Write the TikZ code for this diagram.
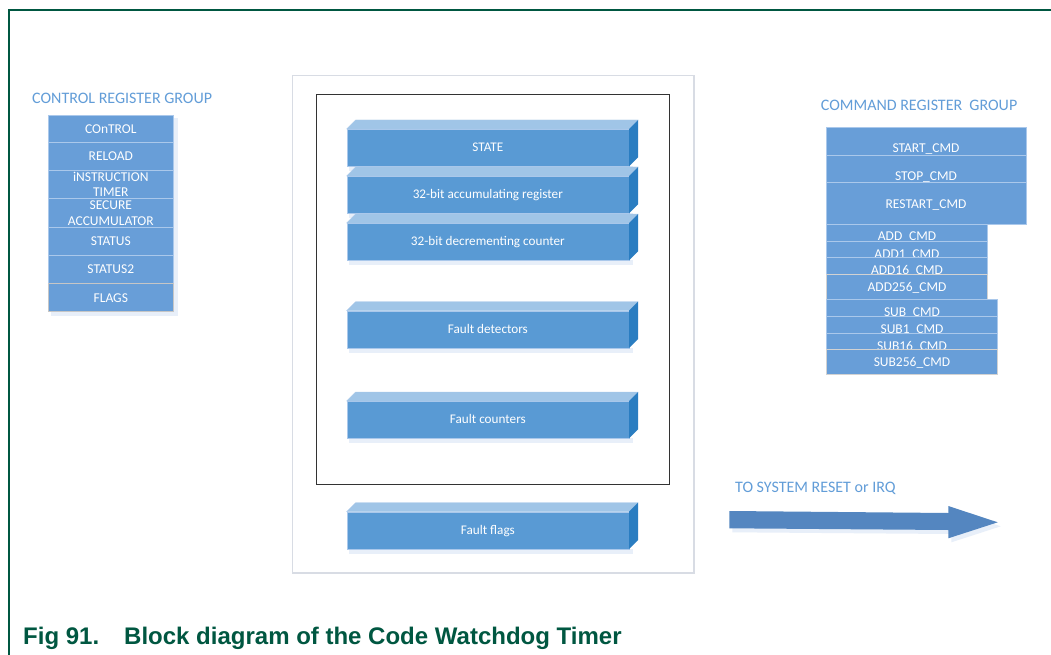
\documentclass[tikz,border=0pt]{standalone}
\usepackage{fontspec}
\setmainfont{Carlito}
\newfontfamily\capfont{Liberation Sans}
\usetikzlibrary{calc}
\definecolor{frameg}{RGB}{0,87,65}
\definecolor{titlec}{RGB}{98,157,216}
\definecolor{regblue}{RGB}{104,158,216}
\definecolor{regline}{RGB}{170,200,235}
\definecolor{barfront}{RGB}{89,154,212}
\definecolor{bartopc}{RGB}{160,197,231}
\definecolor{barsidec}{RGB}{42,125,193}
\definecolor{arrowc}{RGB}{84,134,192}
\definecolor{outerc}{RGB}{216,220,228}
\definecolor{shadowc}{RGB}{232,239,249}
\newcommand\wdbar[3]{%
  \fill[shadowc] (349,#2+37.3) rectangle (633,#2+42);
  \node[barface] (#1) at (346.7,#2) {#3};
  \filldraw[bartopc, draw=regline, line width=0.4pt] (#1.north west) -- ++(9,-9) -- ($(#1.north east)+(9,-9)$) -- (#1.north east) -- cycle;
  \fill[barsidec] (#1.north east) -- ++(9,-9) -- ($(#1.south east)+(9,-9)$) -- (#1.south east) -- cycle;
}
\begin{document}
\begin{tikzpicture}[x=1pt,y=-1pt,
  regbox/.style={fill=regblue, draw=regline, line width=0.5pt, anchor=north west, inner sep=0pt, outer sep=0pt},
  ctrlbox/.style={regbox, minimum width=125pt},
  lbl/.style={anchor=base, inner sep=0pt, text=white, font=\fontsize{13.5}{15}\selectfont},
  title/.style={anchor=base west, inner sep=0pt, text=titlec, font=\fontsize{16}{18}\selectfont},
  barface/.style={fill=barfront, draw=regline, line width=0.4pt, anchor=north west, inner sep=0pt, outer sep=0pt,
    minimum width=282.3pt, minimum height=37.3pt, text=white, text height=8.5pt, text depth=0pt,
    font=\fontsize{13.2}{15}\selectfont},
]
\useasboundingbox (0,0) rectangle (1051,655);
\fill[white] (0,0) rectangle (1051,655);

% frame
\draw[frameg, line width=1.5pt] (9,655) -- (9,10) -- (1051,10);

% control register group
\node[title] (ctitle) at (32,103.3) {CONTROL REGISTER GROUP};
\fill[shadowc] (51,118) rectangle (178,316);
\node[ctrlbox, minimum height=27.7pt] (ctrl) at (48.3,115) {};
\node[lbl] (ctrlT) at (110.8,133.3) {COnTROL};
\node[ctrlbox, minimum height=27.6pt] (reload) at (48.3,142.7) {};
\node[lbl] (reloadT) at (110.8,160.3) {RELOAD};
\node[ctrlbox, minimum height=28.4pt] (itimer) at (48.3,170.3) {};
\node[lbl] (itimerA) at (110.8,181.5) {iNSTRUCTION};
\node[lbl] (itimerB) at (110.8,196.5) {TIMER};
\node[ctrlbox, minimum height=28.6pt] (secacc) at (48.3,198.7) {};
\node[lbl] (secaccA) at (110.8,209.5) {SECURE};
\node[lbl] (secaccB) at (110.8,225) {ACCUMULATOR};
\node[ctrlbox, minimum height=28.4pt] (status) at (48.3,227.3) {};
\node[lbl] (statusT) at (110.8,245.3) {STATUS};
\node[ctrlbox, minimum height=28pt] (status2) at (48.3,255.7) {};
\node[lbl] (status2T) at (110.8,273.3) {STATUS2};
\node[ctrlbox, minimum height=28pt, draw=gray!45] (flags) at (48.3,283.7) {};
\node[lbl] (flagsT) at (110.8,302) {FLAGS};

% central block
\node[draw=outerc, line width=1.3pt, fill=white, anchor=north west, inner sep=0pt, minimum width=401.6pt, minimum height=497.3pt] (outer) at (291.7,75) {};
\node[draw=black!80, line width=0.8pt, anchor=north west, inner sep=0pt, minimum width=353pt, minimum height=390pt] (inner) at (316,94.3) {};
\wdbar{state}{129}{STATE}
\wdbar{accreg}{176}{32-bit accumulating register}
\wdbar{deccnt}{223}{32-bit decrementing counter}
\wdbar{fdet}{310.7}{Fault detectors}
\wdbar{fcnt}{401}{Fault counters}
\wdbar{fflags}{511.7}{Fault flags}

% command register group
\node[title] (mtitle) at (820.7,110.7) {COMMAND REGISTER~~GROUP};
\node[regbox, minimum width=199.3pt, minimum height=28pt] (start) at (826.7,127.7) {};
\node[lbl] (startT) at (926,152.3) {START\_CMD};
\node[regbox, minimum width=199.3pt, minimum height=27pt] (stop) at (826.7,155.7) {};
\node[lbl] (stopT) at (926,180.3) {STOP\_CMD};
\node[regbox, minimum width=199.3pt, minimum height=41.6pt] (restart) at (826.7,182.7) {};
\node[lbl] (restartT) at (926,208.3) {RESTART\_CMD};
\node[regbox, minimum width=161pt, minimum height=17.4pt] (add) at (826.7,224.3) {};
\node[lbl] (addT) at (907,240.7) {ADD\_CMD};
\node[regbox, minimum width=161pt, minimum height=15.6pt] (add1) at (826.7,241.7) {};
\node[lbl] (add1T) at (907,258.6) {ADD1\_CMD};
\node[regbox, minimum width=161pt, minimum height=17pt] (add16) at (826.7,257.3) {};
\node[lbl] (add16T) at (907,274.6) {ADD16\_CMD};
\node[regbox, minimum width=161pt, minimum height=24.7pt, draw=gray!35] (add256) at (826.7,274.3) {};
\node[lbl] (add256T) at (907,291) {ADD256\_CMD};
\node[regbox, minimum width=171pt, minimum height=17.7pt] (sub) at (826.7,299) {};
\node[lbl] (subT) at (912,316) {SUB\_CMD};
\node[regbox, minimum width=171pt, minimum height=16.6pt] (sub1) at (826.7,316.7) {};
\node[lbl] (sub1T) at (912,333.3) {SUB1\_CMD};
\node[regbox, minimum width=171pt, minimum height=16.4pt] (sub16) at (826.7,333.3) {};
\node[lbl] (sub16T) at (912,350.6) {SUB16\_CMD};
\node[regbox, minimum width=171pt, minimum height=24.6pt, draw=gray!35] (sub256) at (826.7,349.7) {};
\node[lbl] (sub256T) at (912,366) {SUB256\_CMD};

% output arrow
\node[title] (rlabel) at (735,492.3) {TO SYSTEM RESET or IRQ};
\coordinate (a1) at (729.3,511);
\coordinate (a2) at (948.3,513);
\coordinate (a3) at (948.3,506);
\coordinate (a4) at (997.7,522.3);
\coordinate (a5) at (948.3,538.3);
\coordinate (a6) at (948.3,530);
\coordinate (a7) at (729.3,528.3);
\fill[shadowc] ($(a1)+(3,4)$) -- ($(a2)+(3,4)$) -- ($(a3)+(3,4)$) -- ($(a4)+(3,4)$) -- ($(a5)+(3,4)$) -- ($(a6)+(3,4)$) -- ($(a7)+(3,4)$) -- cycle;
\fill[arrowc] (a1) -- (a2) -- (a3) -- (a4) -- (a5) -- (a6) -- (a7) -- cycle;

% caption
\node[anchor=base west, inner sep=0pt, text=frameg, font=\capfont\bfseries\fontsize{24}{28}\selectfont] (caption) at (23,644) {Fig 91.\hspace{25pt}Block diagram of the Code Watchdog Timer};
\end{tikzpicture}
\end{document}
